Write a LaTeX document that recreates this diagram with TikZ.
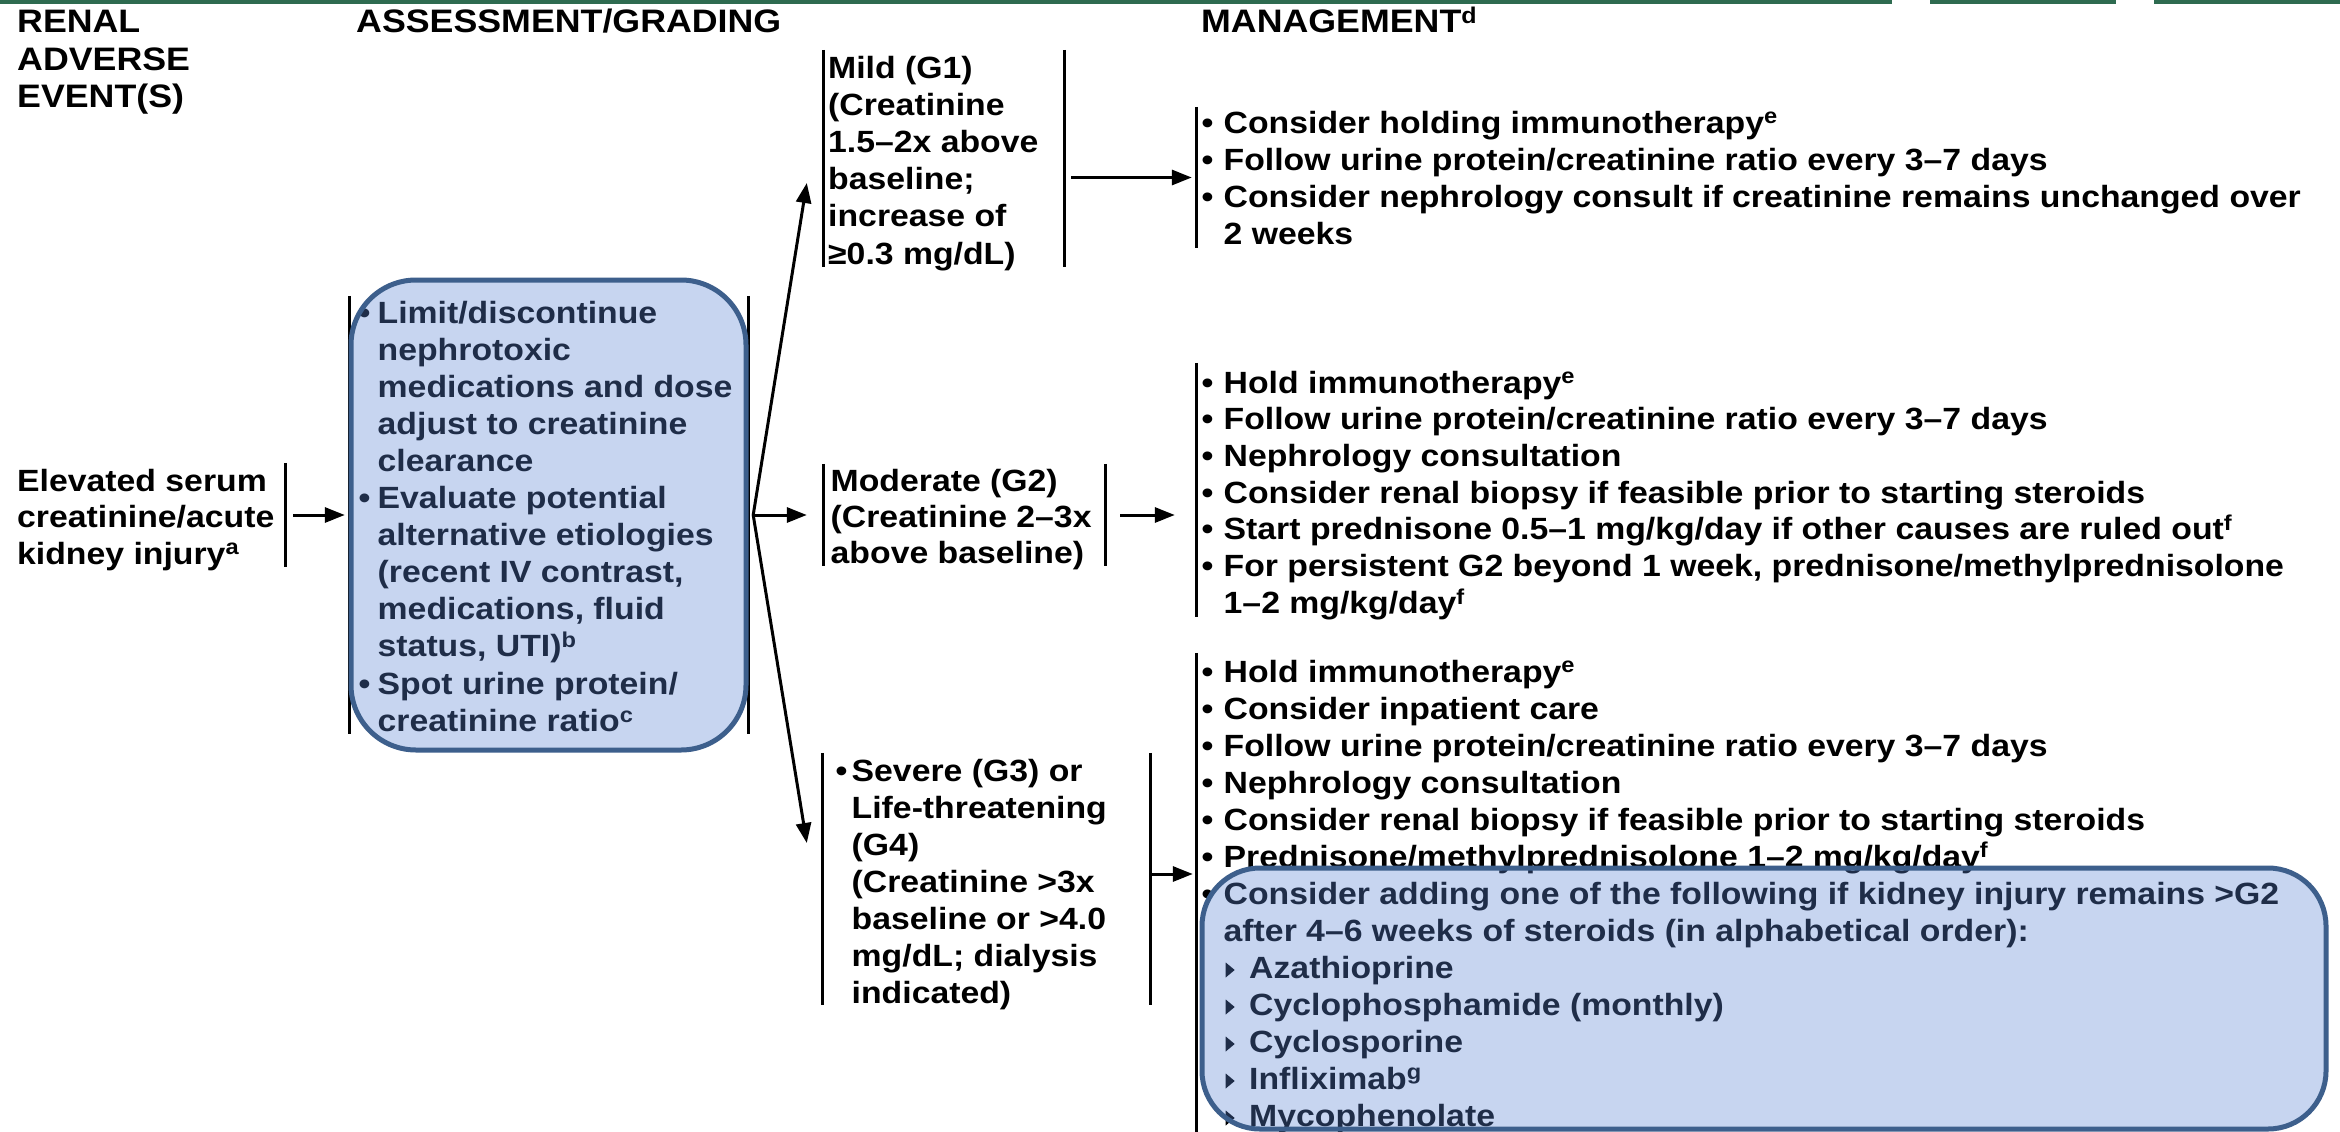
\documentclass[tikz,border=0pt]{standalone}
\usepackage{fontspec}
\usepackage{graphicx}
\setmainfont{Liberation Sans}[FakeStretch=1.1]
\usetikzlibrary{arrows.meta,calc}

\definecolor{rulegreen}{HTML}{2E6B50}
\definecolor{tintblue}{HTML}{5B84D4}
\definecolor{edgeblue}{HTML}{3D5F8C}

% text helpers
\newcommand\bodyfont[1][37]{\fontsize{30.7}{#1}\selectfont\bfseries}
\newcommand\headfont{\fontsize{32.5}{37.5}\selectfont\bfseries}
\newcommand\itm[1][22pt]{\makebox[#1][l]{•}}
\newcommand\ind[1][22pt]{\hspace*{#1}}
\newcommand\tri{\makebox[23.5pt][l]{\tikz[x=1pt,y=1pt,baseline=0pt]\fill (0,0.5)--(0,15.5)--(9,8)--cycle;}}
\newcommand\lns[1]{\begin{tabular}[t]{@{}l@{}}#1\end{tabular}}

\begin{document}
\begin{tikzpicture}[x=1pt,y=-1pt,
  txt/.style={anchor=base west,inner sep=0pt,font=\bodyfont},
  hdr/.style={anchor=base west,inner sep=0pt,font=\headfont},
  frame/.style={rectangle,inner sep=0pt,draw=none},
  brk/.style={line width=2.8pt},
  arr/.style={line width=3pt,-{Triangle[length=20pt,width=15pt]}},
  tint/.style={rectangle,inner sep=0pt,fill=tintblue,fill opacity=0.34,
               draw=edgeblue,line width=5pt}]

\useasboundingbox (0,0) rectangle (2340,1132);
\fill[white] (0,0) rectangle (2340,1132);

% green rule along the top edge
\fill[rulegreen] (0,0) rectangle (1892,4);
\fill[rulegreen] (1930,0) rectangle (2116,4);
\fill[rulegreen] (2154,0) rectangle (2340,4);

% column headings
\node[hdr] (hEvent) at (17,33) {\lns{RENAL\\ADVERSE\\EVENT(S)}};
\node[hdr] (hAssess) at (356,33) {ASSESSMENT/GRADING};
\node[hdr] (hMgmt) at (1201,33) {MANAGEMENT\textsuperscript{d}};

% bracket frames
\node[frame,minimum width=270pt,minimum height=104pt] (evt) at (150,515) {};
\node[frame,minimum width=398pt,minimum height=438pt] (assess) at (549,515) {};
\node[frame,minimum width=240pt,minimum height=217pt] (mild) at (944,158.5) {};
\node[frame,minimum width=281pt,minimum height=102pt] (moder) at (964.5,515) {};
\node[frame,minimum width=327pt,minimum height=252pt] (sev) at (986.5,879) {};
\node[frame,minimum width=1123pt,minimum height=141pt] (m1) at (1758.5,177.5) {};
\node[frame,minimum width=1123pt,minimum height=254pt] (m2) at (1758.5,490) {};
\node[frame,minimum width=1133pt,minimum height=487pt] (m3) at (1763.5,896.5) {};

% texts
\node[txt,font={\bodyfont[36.5]}] (tEvt) at (17,491)
  {\lns{Elevated serum\\creatinine/acute\\kidney injury\textsuperscript{a}}};

\node[txt,font={\bodyfont[37.1]}] (tAssess) at (358.5,323) {\lns{%
  \itm[19pt]Limit/discontinue\\
  \ind[19pt]nephrotoxic\\
  \ind[19pt]medications and dose\\
  \ind[19pt]adjust to creatinine\\
  \ind[19pt]clearance\\
  \itm[19pt]Evaluate potential\\
  \ind[19pt]alternative etiologies\\
  \ind[19pt](recent IV contrast,\\
  \ind[19pt]medications, fluid\\
  \ind[19pt]status, UTI)\textsuperscript{b}\\
  \itm[19pt]Spot urine protein/\\
  \ind[19pt]creatinine ratio\textsuperscript{c}}};

\node[txt,font={\bodyfont[37.2]}] (tMild) at (828,78)
  {\lns{Mild (G1)\\(Creatinine\\1.5–2x above\\baseline;\\increase of\\≥0.3 mg/dL)}};

\node[txt,font={\bodyfont[36]}] (tModer) at (830.5,491)
  {\lns{Moderate (G2)\\(Creatinine 2–3x\\above baseline)}};

\node[txt,font={\bodyfont[37]}] (tSev) at (835.5,781) {\lns{%
  \itm[16pt]Severe (G3) or\\
  \ind[16pt]Life-threatening\\
  \ind[16pt](G4)\\
  \ind[16pt](Creatinine >3x\\
  \ind[16pt]baseline or >4.0\\
  \ind[16pt]mg/dL; dialysis\\
  \ind[16pt]indicated)}};

\node[txt,font={\bodyfont[37]}] (tM1) at (1201.5,133) {\lns{%
  \itm Consider holding immunotherapy\textsuperscript{e}\\
  \itm Follow urine protein/creatinine ratio every 3–7 days\\
  \itm Consider nephrology consult if creatinine remains unchanged over\\
  \ind 2 weeks}};

\node[txt,font={\bodyfont[36.7]}] (tM2) at (1201.5,393) {\lns{%
  \itm Hold immunotherapy\textsuperscript{e}\\
  \itm Follow urine protein/creatinine ratio every 3–7 days\\
  \itm Nephrology consultation\\
  \itm Consider renal biopsy if feasible prior to starting steroids\\
  \itm Start prednisone 0.5–1 mg/kg/day if other causes are ruled out\textsuperscript{f}\\
  \itm For persistent G2 beyond 1 week, prednisone/methylprednisolone\\
  \ind 1–2 mg/kg/day\textsuperscript{f}}};

\node[txt,font={\bodyfont[37]}] (tM3) at (1201.5,682) {\lns{%
  \itm Hold immunotherapy\textsuperscript{e}\\
  \itm Consider inpatient care\\
  \itm Follow urine protein/creatinine ratio every 3–7 days\\
  \itm Nephrology consultation\\
  \itm Consider renal biopsy if feasible prior to starting steroids\\
  \itm Prednisone/methylprednisolone 1–2 mg/kg/day\textsuperscript{f}\\
  \itm Consider adding one of the following if kidney injury remains >G2\\
  \ind after 4–6 weeks of steroids (in alphabetical order):\\
  \ind[24pt]\tri Azathioprine\\
  \ind[24pt]\tri Cyclophosphamide (monthly)\\
  \ind[24pt]\tri Cyclosporine\\
  \ind[24pt]\tri Infliximab\textsuperscript{g}\\
  \ind[24pt]\tri Mycophenolate}};

% brackets
\draw[brk] (evt.north east) -- (evt.south east);
\foreach \n in {assess,mild,moder,sev}{
  \draw[brk] (\n.north west) -- (\n.south west);
  \draw[brk] (\n.north east) -- (\n.south east);
}
\foreach \n in {m1,m2,m3}{
  \draw[brk] (\n.north west) -- (\n.south west);
}

% connectors
\draw[arr] ([xshift=8pt]evt.east) -- ([xshift=-5pt]assess.west);
\coordinate (fan) at ([xshift=5pt]assess.east);
\draw[arr] (fan) -- ([xshift=-17pt,yshift=-24.5pt]mild.west);
\draw[arr] (fan) -- ([xshift=-17pt]moder.west);
\draw[arr] (fan) -- ([xshift=-16pt,yshift=36pt]sev.west);
\coordinate (mildout) at ([xshift=7pt]mild.east |- m1.west);
\draw[arr] (mildout) -- ($(m1.west)+(-5,0)$);
\coordinate (moderout) at ([xshift=15pt]moder.east);
\draw[arr] (moderout) -- ($(m2.west |- moderout)+(-22,0)$);
\coordinate (sevout) at ([xshift=2pt,yshift=5pt]sev.east);
\draw[arr] (sevout) -- ($(m3.west |- sevout)+(-4,0)$);

% tinted rounded panels laid over the text
\node[tint,rounded corners=65pt,minimum width=395pt,minimum height=470pt] (asbox) at (548.5,515) {};
\node[tint,rounded corners=58pt,minimum width=1124pt,minimum height=261pt] (escbox) at (1764,998.5) {};
\end{tikzpicture}
\end{document}
